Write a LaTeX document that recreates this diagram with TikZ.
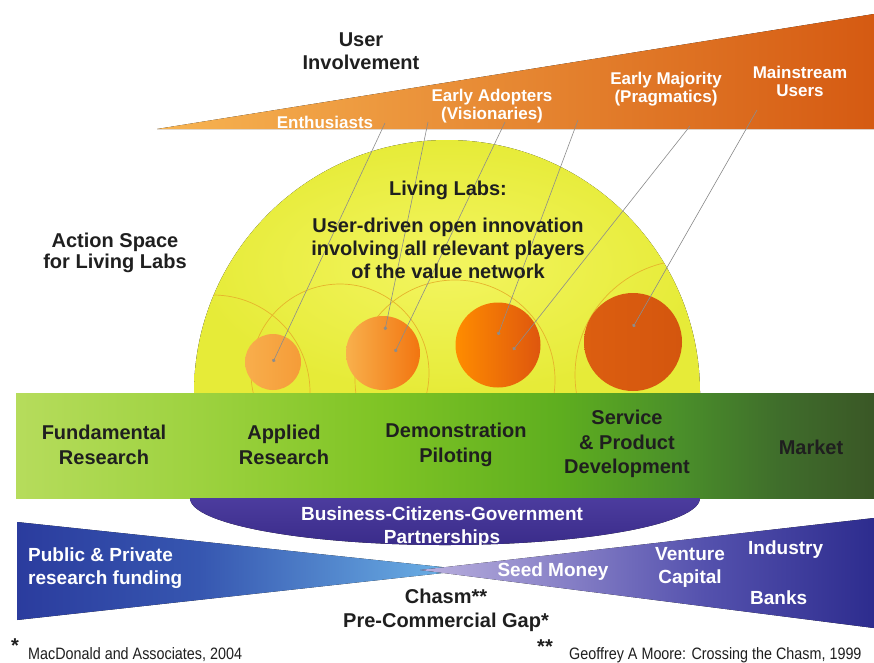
\documentclass[tikz,border=0pt]{standalone}
\usepackage{fontspec}
\setmainfont{Liberation Sans}
\newfontfamily\notefont{Liberation Sans}[FakeStretch=0.87]
\usetikzlibrary{arrows.meta}

\definecolor{inkgray}{HTML}{1F1F1F}
\definecolor{pointergray}{HTML}{8C8C8C}
\definecolor{ringorange}{HTML}{E6B42C}
\definecolor{coneA}{HTML}{F7B452}
\definecolor{coneB}{HTML}{EE8D2E}
\definecolor{coneC}{HTML}{D55A12}
\definecolor{domeIn}{HTML}{F3F560}
\definecolor{domeOut}{HTML}{E6EB38}
\definecolor{bandA}{HTML}{B6DC5C}
\definecolor{bandB}{HTML}{9DD23F}
\definecolor{bandC}{HTML}{7FC425}
\definecolor{bandD}{HTML}{5EAE1F}
\definecolor{bandE}{HTML}{4A8F2A}
\definecolor{bandF}{HTML}{3F6D2B}
\definecolor{bandG}{HTML}{3A5726}
\definecolor{fundA}{HTML}{2B3C9E}
\definecolor{fundB}{HTML}{3656B0}
\definecolor{fundC}{HTML}{6FB8EA}
\definecolor{seedA}{HTML}{BAB0DE}
\definecolor{seedB}{HTML}{8A83C8}
\definecolor{seedC}{HTML}{5552AE}
\definecolor{seedD}{HTML}{2D2C8E}
\definecolor{bcgTop}{HTML}{4C3C9E}
\definecolor{bcgBottom}{HTML}{3A2C8A}
\definecolor{enthA}{HTML}{F8AE4C}
\definecolor{enthB}{HTML}{F59C38}
\definecolor{adoptA}{HTML}{F8B04C}
\definecolor{adoptB}{HTML}{F27510}
\definecolor{majorA}{HTML}{FF8C00}
\definecolor{majorB}{HTML}{DE560E}
\definecolor{mainA}{HTML}{DC5E10}
\definecolor{mainB}{HTML}{D4560E}

\pgfdeclarehorizontalshading{bandshade}{100bp}{color(0bp)=(bandA); color(25bp)=(bandA);
	color(35.7bp)=(bandB); color(46.2bp)=(bandC); color(56.7bp)=(bandD);
	color(63.7bp)=(bandE); color(69.5bp)=(bandF); color(75bp)=(bandG); color(100bp)=(bandG)}
\pgfdeclarehorizontalshading{fundshade}{100bp}{color(0bp)=(fundA); color(25bp)=(fundA);
	color(45bp)=(fundB); color(75bp)=(fundC); color(100bp)=(fundC)}
\pgfdeclarehorizontalshading{seedshade}{100bp}{color(0bp)=(seedA); color(25bp)=(seedA);
	color(40bp)=(seedB); color(56bp)=(seedC); color(75bp)=(seedD); color(100bp)=(seedD)}

\begin{document}
\begin{tikzpicture}[x=1pt, y=-1pt,
	every node/.style = {align=center, inner sep=0pt},
	darklabel/.style = {font=\fontsize{20}{23}\selectfont\bfseries, text=inkgray},
	bandlabel/.style = {font=\fontsize{20}{24.5}\selectfont\bfseries, text=inkgray},
	whitelabel/.style = {font=\fontsize{17}{18}\selectfont\bfseries, text=white},
	fundlabel/.style = {font=\fontsize{19}{23}\selectfont\bfseries, text=white},
	notelabel/.style = {font=\notefont\fontsize{16.5}{18}\selectfont, text=inkgray, anchor=west},
	starlabel/.style = {font=\fontsize{20}{20}\selectfont\bfseries, text=inkgray},
	stage/.style = {circle, minimum size=#1},
	ring/.style = {draw=ringorange, line width=0.7pt},
	pointer/.style = {draw=pointergray, line width=0.6pt, -{Circle[length=3.5pt]}}]

	\fill[white] (0,0) rectangle (874,662);
	\useasboundingbox (0,0) rectangle (874,662);

	% user involvement wedge
	\fill[left color=coneA, middle color=coneB, right color=coneC]
		(157,129) -- (874,14) -- (874,129) -- cycle;

	% action space dome
	\fill[inner color=domeIn, outer color=domeOut]
		(194,393) arc[start angle=180, end angle=360, radius=253] -- cycle;
	\begin{scope}
		\clip (194,393) arc[start angle=180, end angle=360, radius=253] -- cycle;
		\draw[ring] (213,392) circle (97);
		\draw[ring] (340,373) circle (89);
		\draw[ring] (455,380) circle (100);
		\draw[ring] (690,375) circle (115);
	\end{scope}

	\node[stage=56pt, left color=enthA, right color=enthB] (c1) at (273,362) {};
	\node[stage=74pt, left color=adoptA, right color=adoptB] (c2) at (383,353) {};
	\node[stage=85pt, left color=majorA, right color=majorB] (c3) at (498,345) {};
	\node[stage=98pt, left color=mainA, right color=mainB] (c4) at (633,342) {};

	% innovation stages
	\fill[shading=bandshade] (16,393) rectangle (874,498);

	% funding
	\fill[shading=fundshade] (17,522) -- (470,570) -- (17,620) -- cycle;
	\fill[shading=seedshade] (420,570) -- (874,518) -- (874,628) -- cycle;
	\fill[top color=bcgTop, bottom color=bcgBottom]
		(190,498) arc[start angle=180, end angle=0, x radius=255, y radius=47] -- cycle;

	% pointers from user groups
	\coordinate (s1) at (385,123); \coordinate (d1) at (273,362);
	\coordinate (s2) at (428,122); \coordinate (d2) at (385,330);
	\coordinate (s3) at (505,122); \coordinate (d3) at (395,352);
	\coordinate (s4) at (578,120); \coordinate (d4) at (498,335);
	\coordinate (s5) at (690,126); \coordinate (d5) at (513,350);
	\coordinate (s6) at (757,110); \coordinate (d6) at (633,327);
	\foreach \i in {1,...,6}
		\draw[pointer] (s\i) -- (d\i);

	\node[darklabel] (involve) at (361,51) {User\\Involvement};
	\node[whitelabel] (enth) at (325,122) {Enthusiasts};
	\node[whitelabel] (adopt) at (492,106) {Early Adopters\\(Visionaries)};
	\node[whitelabel] (major) at (666,89) {Early Majority\\(Pragmatics)};
	\node[whitelabel] (main) at (800,81) {Mainstream\\Users};

	\node[darklabel] (ll) at (448,190) {Living Labs:};
	\node[darklabel] (lldesc) at (448,248) {User-driven open innovation\\involving all relevant players\\of the value network};
	\node[darklabel, font=\fontsize{20}{21}\selectfont\bfseries] (space) at (115,253) {Action Space\\for Living Labs};

	\node[bandlabel] (fund) at (104,445) {Fundamental\\Research};
	\node[bandlabel] (appl) at (284,445) {Applied\\Research};
	\node[bandlabel] (demo) at (456,445) {Demonstration\\Piloting};
	\node[bandlabel] (serv) at (627,444) {Service\\\& Product\\Development};
	\node[bandlabel] (mkt) at (811,447) {Market};

	\node[fundlabel] (bcg) at (442,527) {Business-Citizens-Government\\Partnerships};
	\node[fundlabel, anchor=west, align=left] (pub) at (28,568) {Public \& Private\\research funding};
	\node[fundlabel] (seed) at (553,572) {Seed Money};
	\node[fundlabel] (vc) at (690,567) {Venture\\Capital};
	\node[fundlabel, anchor=west] (ind) at (748,550) {Industry};
	\node[fundlabel, anchor=west] (bank) at (750,598) {Banks};

	\node[darklabel, font=\fontsize{20}{24}\selectfont\bfseries] (gap) at (446,610) {Chasm**\\Pre-Commercial Gap*};

	\node[starlabel] (star1) at (15,646) {*};
	\node[notelabel] (note1) at (28,655) {MacDonald and Associates, 2004};
	\node[starlabel] (star2) at (545,647) {**};
	\node[notelabel] (note2) at (569,655) {Geoffrey A Moore: Crossing the Chasm, 1999};
\end{tikzpicture}
\end{document}
